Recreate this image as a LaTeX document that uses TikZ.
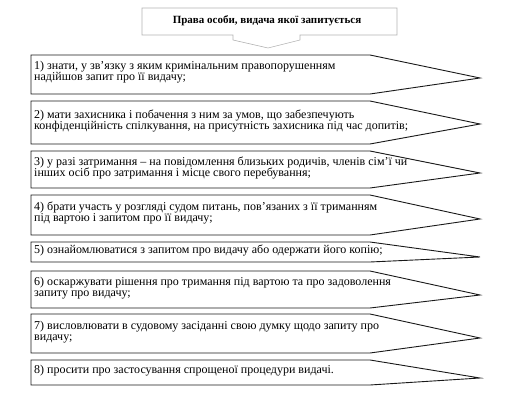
\documentclass[tikz,border=0pt]{standalone}
\usepackage{fontspec}
\setmainfont{Liberation Serif}
\begin{document}
\begin{tikzpicture}[x=1pt, y=-1pt]
\tikzset{titlebox/.style={draw=black!30, line width=0.6pt}}
\tikzset{titletext/.style={font=\bfseries\fontsize{11}{13}\selectfont, inner sep=0pt}}
\tikzset{rightbox/.style={draw=black!90, line width=0.9pt, line join=miter}}
\tikzset{righttext/.style={anchor=west, inner sep=0pt, align=left,
  font=\fontsize{12}{11.5}\selectfont\setlength{\lineskiplimit}{-6pt}}}
\useasboundingbox (0,0) rectangle (512,404);
% title callout
\draw[titlebox] (142,8) -- (397,8) -- (397,35) -- (300,35) -- (300,40) -- (268,48)
  -- (233,40) -- (233,35) -- (142,35) -- cycle;
\node (title) [titletext] at (267,21) {Права особи, видача якої запитується};
% arrow boxes
\foreach \t/\b/\p in {55/94/78, 101/144/124, 151/188/173, 195/235/219,
                      242/262/257, 271/308/295, 314/353/338, 360/385/378}
  \draw[rightbox] (31,\t) -- (370,\t) -- (480,\p) -- (370,\b) -- (31,\b) -- cycle;
% rights
\node (r1) [righttext] at (34, 72) {1) знати, у зв’язку з яким кримінальним правопорушенням\\надійшов запит про її видачу;};
\node (r2) [righttext] at (34,121) {2) мати захисника і побачення з ним за умов, що забезпечують\\конфіденційність спілкування, на присутність захисника під час допитів;};
\node (r3) [righttext] at (34,168) {3) у разі затримання – на повідомлення близьких родичів, членів сім’ї чи\\інших осіб про затримання і місце свого перебування;};
\node (r4) [righttext] at (34,213) {4) брати участь у розгляді судом питань, пов’язаних з її триманням\\під вартою і запитом про її видачу;};
\node (r5) [righttext] at (34,250) {5) ознайомлюватися з запитом про видачу або одержати його копію;};
\node (r6) [righttext] at (34,288) {6) оскаржувати рішення про тримання під вартою та про задоволення\\запиту про видачу;};
\node (r7) [righttext] at (34,332) {7) висловлювати в судовому засіданні свою думку щодо запиту про\\видачу;};
\node (r8) [righttext] at (34,371) {8) просити про застосування спрощеної процедури видачі.};
\end{tikzpicture}
\end{document}
